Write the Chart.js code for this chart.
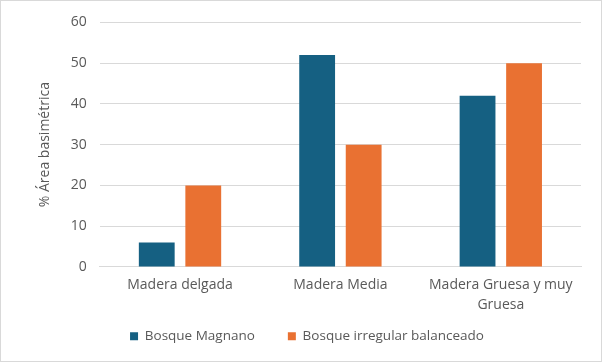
<!DOCTYPE html>
<html>
<head>
<meta charset="utf-8">
<script src="https://cdn.jsdelivr.net/npm/chart.js@4"></script>
<style>
    html, body { margin: 0; padding: 0; background: #fff; }
    #wrap { width: 600px; height: 360px; border: 1px solid #d9d9d9; }
</style>
</head>
<body>
<div id="wrap"><canvas id="chart" width="600" height="360"></canvas></div>
<script>
// categories and series
const categories = ["Madera delgada", "Madera Media", ["Madera Gruesa y muy", "Gruesa"]];
const magnano = [6, 52, 42];
const irregular = [20, 30, 50];
const seriesNames = ["Bosque Magnano", "Bosque irregular balanceado"];
const yTicks = { min: 0, max: 60, step: 10 };

const textColor = '#595959';
const font = { family: "'Open Sans', sans-serif", size: 14, lineHeight: 1.45 };

let ctx = document.getElementById('chart');
let chart = new Chart(ctx, {
    type: 'bar',
    data: {
        labels: categories,
        datasets: [{
            label: seriesNames[0],
            data: magnano,
            backgroundColor: '#156082',
            categoryPercentage: 0.58,
            barPercentage: 0.77
        }, {
            label: seriesNames[1],
            data: irregular,
            backgroundColor: '#E97132',
            categoryPercentage: 0.58,
            barPercentage: 0.77
        }]
    },
    options: {
        responsive: false,
        animation: false,
        layout: { padding: { left: 32, right: 20, top: 9, bottom: 8 } },
        plugins: {
            legend: {
                position: 'bottom',
                labels: {
                    color: textColor,
                    font: { family: font.family, size: 13.5 },
                    boxWidth: 8,
                    boxHeight: 8,
                    padding: 6,
                    // a bit more room between the two items, like the original
                    generateLabels: function(c) {
                        let items = Chart.defaults.plugins.legend.labels.generateLabels(c);
                        items[0].text += '\u2003\u2003';
                        return items;
                    }
                }
            },
            tooltip: { enabled: false }
        },
        scales: {
            x: {
                grid: { display: false, drawTicks: false },
                border: { color: '#d9d9d9', width: 1 },
                ticks: { color: textColor, font: font, maxRotation: 0, padding: 8 }
            },
            y: {
                min: yTicks.min,
                max: yTicks.max,
                ticks: { stepSize: yTicks.step, color: textColor, font: { family: font.family, size: 14 }, padding: 13 },
                grid: { color: '#d9d9d9', lineWidth: 1, drawTicks: false },
                border: { display: false },
                title: {
                    display: true,
                    text: '% Área basimétrica',
                    color: textColor,
                    font: { family: font.family, size: 14 }
                }
            }
        }
    }
});
</script>
</body>
</html>
